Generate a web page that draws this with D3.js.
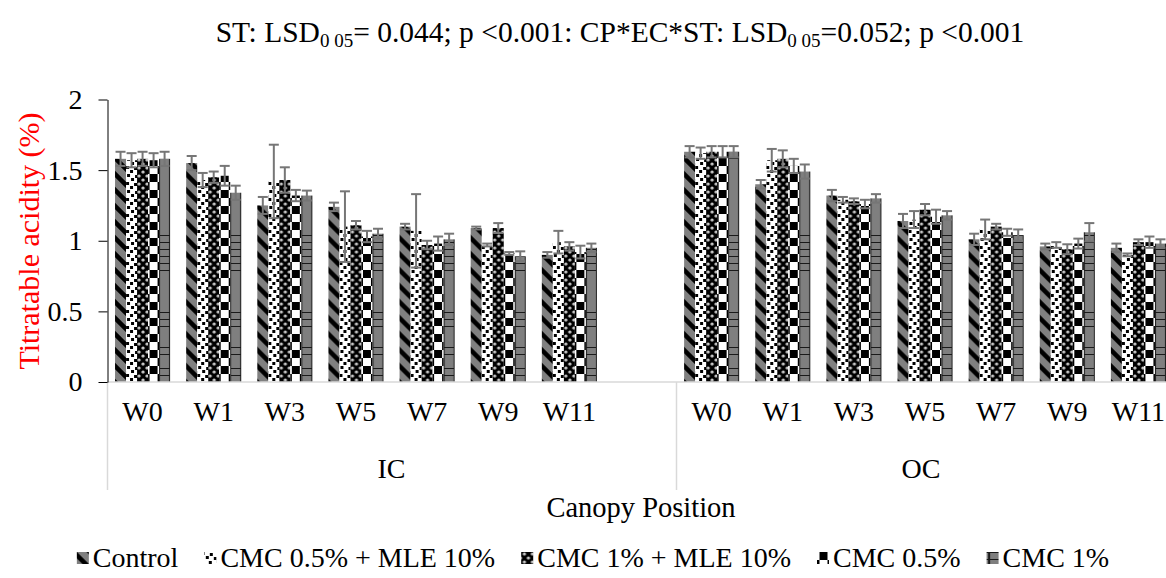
<!DOCTYPE html>
<html>
<head>
<meta charset="utf-8">
<script src="https://cdn.jsdelivr.net/npm/d3@7"></script>
<style>
  html, body { margin: 0; padding: 0; background: #fff; }
  svg { display: block; font-family: "Liberation Serif", "Times New Roman", serif; }
</style>
</head>
<body>
<svg id="chart" width="1166" height="578"></svg>
<script>
// Sampling weeks and canopy positions
const weeks = ["W0", "W1", "W3", "W5", "W7", "W9", "W11"];
const positions = ["IC", "OC"];
const treatments = ["Control", "CMC 0.5% + MLE 10%", "CMC 1% + MLE 10%", "CMC 0.5%", "CMC 1%"];
const yTicks = [0, 0.5, 1, 1.5, 2];

// Titratable acidity (%) per treatment: IC W0..W11, then OC W0..W11
const controlMean  = [1.58, 1.55, 1.25, 1.24, 1.10, 1.09, 0.90,  1.63, 1.40, 1.32, 1.14, 1.01, 0.96, 0.95];
const controlErr   = [0.05, 0.05, 0.06, 0.03, 0.02, 0.01, 0.02,  0.04, 0.03, 0.04, 0.05, 0.04, 0.02, 0.03];
const cmc05MleMean = [1.57, 1.43, 1.42, 1.10, 1.07, 0.97, 0.99,  1.62, 1.57, 1.29, 1.15, 1.08, 0.97, 0.90];
const cmc05MleErr  = [0.05, 0.05, 0.26, 0.25, 0.26, 0.01, 0.08,  0.04, 0.08, 0.02, 0.06, 0.07, 0.02, 0.01];
const cmc1MleMean  = [1.58, 1.45, 1.43, 1.11, 0.97, 1.09, 0.96,  1.63, 1.58, 1.28, 1.22, 1.10, 0.94, 0.99];
const cmc1MleErr   = [0.05, 0.04, 0.09, 0.03, 0.03, 0.035, 0.03, 0.04, 0.06, 0.02, 0.04, 0.02, 0.035, 0.02];
const cmc05Mean    = [1.57, 1.46, 1.32, 1.03, 0.98, 0.91, 0.92,  1.63, 1.53, 1.26, 1.17, 1.06, 0.98, 0.99];
const cmc05Err     = [0.05, 0.07, 0.04, 0.04, 0.05, 0.01, 0.045, 0.04, 0.05, 0.03, 0.05, 0.025, 0.035, 0.04];
const cmc1Mean     = [1.58, 1.34, 1.32, 1.05, 1.01, 0.89, 0.95,  1.63, 1.49, 1.30, 1.18, 1.04, 1.06, 0.98];
const cmc1Err      = [0.05, 0.05, 0.035, 0.035, 0.04, 0.035, 0.03, 0.04, 0.05, 0.03, 0.03, 0.04, 0.065, 0.03];

const means = [controlMean, cmc05MleMean, cmc1MleMean, cmc05Mean, cmc1Mean];
const errs  = [controlErr, cmc05MleErr, cmc1MleErr, cmc05Err, cmc1Err];

const W = 1166, H = 578;
const FONT = 28;
const svg = d3.select("#chart");
const defs = svg.append("defs");

// Category slots: IC weeks, one empty slot, OC weeks
const key = (p, w) => p + " " + w;
const domain = [
  ...weeks.map(w => key("IC", w)),
  "IC gap",
  ...weeks.map(w => key("OC", w))
];
const x = d3.scaleBand().domain(domain).range([107, 1174]).paddingInner(0).paddingOuter(0);
const xs = d3.scaleBand().domain(treatments).range([0, x.bandwidth()]).paddingInner(0).paddingOuter(0.73);
const y = d3.scaleLinear().domain([0, 2]).range([382, 99.5]);

// ---- fill patterns ----
let patId = 0;
function pattern(series, x0, y0, w) {
  const id = "pat" + (patId++);
  const p = defs.append("pattern").attr("id", id).attr("patternUnits", "userSpaceOnUse");
  if (series === 0) {
    // wide downward diagonal: gray with black stripes
    const b = 3.2;
    p.attr("width", 16).attr("height", 16).attr("patternTransform", `translate(${x0},${y0})`);
    p.append("rect").attr("width", 16).attr("height", 16).attr("fill", "#808080");
    p.append("path").attr("fill", "#000").attr("d",
      `M0,0 L${b},0 L16,${16 - b} L16,16 L${16 - b},16 L0,${b} Z ` +
      `M${16 - b},0 L16,0 L16,${b} Z M0,${16 - b} L${b},16 L0,16 Z`);
  } else if (series === 1) {
    // confetti: white with small black squares
    p.attr("width", 16).attr("height", 16).attr("patternTransform", `translate(${x0},${y0})`);
    p.append("rect").attr("width", 16).attr("height", 16).attr("fill", "#fff");
    [[1, 0], [9, 1], [5, 4], [13, 5], [0, 8], [8, 9], [4, 12], [12, 13]].forEach(([a, c]) =>
      p.append("rect").attr("x", a).attr("y", c).attr("width", 3).attr("height", 3).attr("fill", "#000"));
  } else if (series === 2) {
    // black with small light dots
    p.attr("width", 8).attr("height", 8).attr("patternTransform", `translate(${x0},${y0})`);
    p.append("rect").attr("width", 8).attr("height", 8).attr("fill", "#000");
    [[2, 2], [6, 6]].forEach(([a, c]) => {
      p.append("circle").attr("cx", a).attr("cy", c).attr("r", 1.6).attr("fill", "#e6e6e6");
      p.append("circle").attr("cx", a).attr("cy", c).attr("r", 0.6).attr("fill", "#555");
    });
  } else if (series === 3) {
    // large checker board
    p.attr("width", 16).attr("height", 16).attr("patternTransform", `translate(${x0 + 1.5},${y0})`);
    p.append("rect").attr("width", 16).attr("height", 16).attr("fill", "#fff");
    p.append("rect").attr("width", 8).attr("height", 8).attr("fill", "#000");
    p.append("rect").attr("x", 8).attr("y", 8).attr("width", 8).attr("height", 8).attr("fill", "#000");
  } else {
    // gray cells with dark grid lines
    p.attr("width", w).attr("height", 7).attr("patternTransform", `translate(${x0},${y0})`);
    p.append("rect").attr("width", w).attr("height", 7).attr("fill", "#7f7f7f");
    p.append("rect").attr("width", w).attr("height", 1).attr("fill", "#1a1a1a");
    p.append("rect").attr("width", 1).attr("height", 7).attr("fill", "#1a1a1a");
    p.append("rect").attr("x", w - 1).attr("width", 1).attr("height", 7).attr("fill", "#1a1a1a");
  }
  return `url(#${id})`;
}

// ---- title ----
const title = svg.append("text")
  .attr("x", 620).attr("y", 42)
  .attr("text-anchor", "middle")
  .attr("font-size", 29.5).attr("fill", "#000");
title.append("tspan").text("ST: LSD");
title.append("tspan").attr("font-size", 19).attr("dy", 5).text("0 05");
title.append("tspan").attr("dy", -5).text("= 0.044; p <0.001: CP*EC*ST: LSD");
title.append("tspan").attr("font-size", 19).attr("dy", 5).text("0 05");
title.append("tspan").attr("dy", -5).text("=0.052; p <0.001");

// ---- bars ----
const rows = [];
positions.forEach((p, pi) => weeks.forEach((w, wi) => {
  const idx = pi * weeks.length + wi;
  treatments.forEach((t, si) => rows.push({
    k: key(p, w), s: si, t, v: means[si][idx], e: errs[si][idx]
  }));
}));

const bw = xs.bandwidth();
const barG = svg.append("g");
barG.selectAll("rect").data(rows).join("rect")
  .attr("x", d => x(d.k) + xs(d.t))
  .attr("y", d => y(d.v))
  .attr("width", bw)
  .attr("height", d => y(0) - y(d.v))
  .attr("fill", d => pattern(d.s, x(d.k) + xs(d.t), y(0), bw));

// ---- category axis lines ----
const axisCol = "#d9d9d9";
svg.append("line")
  .attr("x1", x(domain[0])).attr("x2", W + 10)
  .attr("y1", y(0)).attr("y2", y(0))
  .attr("stroke", axisCol).attr("stroke-width", 1.5);
positions.forEach(p => {
  const xx = Math.round(x(key(p, weeks[0]))) + 0.5;
  svg.append("line")
    .attr("x1", xx).attr("x2", xx)
    .attr("y1", y(0)).attr("y2", 490)
    .attr("stroke", axisCol).attr("stroke-width", 1.5);
});

// ---- error bars (drawn above all bars) ----
const errG = svg.append("g").attr("stroke", "#767676").attr("stroke-width", 2).attr("fill", "none");
rows.forEach(d => {
  const cx = x(d.k) + xs(d.t) + bw / 2;
  const y1 = y(d.v + d.e), y2 = y(d.v - d.e);
  errG.append("line").attr("x1", cx).attr("x2", cx).attr("y1", y1).attr("y2", y2);
  errG.append("line").attr("x1", cx - 5).attr("x2", cx + 5).attr("y1", y1).attr("y2", y1);
  errG.append("line").attr("x1", cx - 5).attr("x2", cx + 5).attr("y1", y2).attr("y2", y2);
});

// ---- value axis ----
const yAxis = d3.axisLeft(y).tickValues(yTicks).tickFormat(d3.format("")).tickSize(9).tickSizeOuter(0).tickPadding(16);
const yg = svg.append("g").attr("transform", "translate(107.5,0)").call(yAxis);
yg.attr("font-size", FONT).attr("font-family", "Liberation Serif, Times New Roman, serif");
yg.select(".domain").attr("stroke", "#000");
yg.selectAll(".tick line").attr("stroke", "#000");
yg.selectAll(".tick text").attr("font-size", FONT).attr("fill", "#000");

svg.append("text")
  .attr("transform", "translate(39,241) rotate(-90)")
  .attr("text-anchor", "middle")
  .attr("font-size", 30).attr("fill", "#ff0000")
  .text("Titratable acidity (%)");

// ---- category labels ----
positions.forEach(p => weeks.forEach(w => {
  svg.append("text")
    .attr("x", x(key(p, w)) + x.bandwidth() / 2).attr("y", 421)
    .attr("text-anchor", "middle").attr("font-size", FONT).attr("fill", "#000")
    .text(w);
}));
positions.forEach((p, i) => {
  const x0 = x(key(p, weeks[0]));
  const x1 = i === 0 ? x("IC gap") + x.bandwidth() : Math.min(W, x(key(p, weeks[weeks.length - 1])) + x.bandwidth());
  svg.append("text")
    .attr("x", (x0 + x1) / 2).attr("y", 478)
    .attr("text-anchor", "middle").attr("font-size", FONT).attr("fill", "#000")
    .text(p);
});
svg.append("text")
  .attr("x", 641).attr("y", 517)
  .attr("text-anchor", "middle").attr("font-size", 28.5).attr("fill", "#000")
  .text("Canopy Position");

// ---- legend ----
const legG = svg.append("g");
const iconSize = 12, iconGap = 4, itemGap = 26, legY = 567;
let cursor = 0;
const items = treatments.map((t, i) => {
  const g = legG.append("g");
  const txt = g.append("text").attr("x", iconSize + iconGap).attr("y", legY)
    .attr("font-size", FONT).attr("fill", "#000").text(t);
  const wTxt = txt.node().getComputedTextLength();
  const item = { g, i, x: cursor };
  cursor += iconSize + iconGap + wTxt + itemGap;
  return item;
});
const legWidth = cursor - itemGap;
const legStart = 593 - legWidth / 2;
items.forEach(it => {
  const gx = legStart + it.x;
  it.g.attr("transform", `translate(${gx},0)`);
  const iy = legY - 9 - iconSize / 2;
  it.g.insert("rect", "text")
    .attr("x", 0).attr("y", iy).attr("width", iconSize).attr("height", iconSize)
    .attr("fill", pattern(it.i, gx, iy, iconSize));
});
</script>
</body>
</html>
